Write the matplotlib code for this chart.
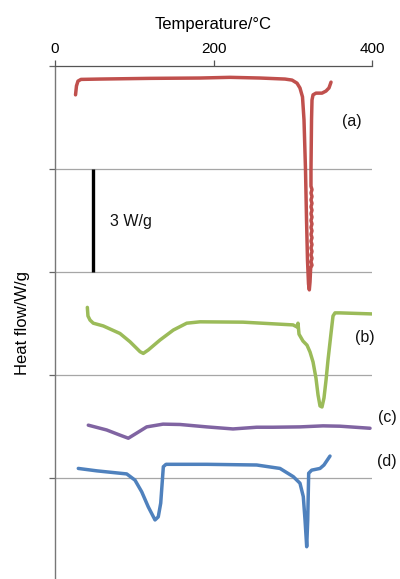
import matplotlib
matplotlib.use("Agg")
import matplotlib.pyplot as plt

plt.rcParams['font.family'] = ['Liberation Sans', 'DejaVu Sans']

# DSC traces, temperature (°C) and heat flow (W/g, stacked with vertical offsets)
temp_a = [25.9, 27.1, 29.0, 32.8, 56.8, 119.9, 183.0, 220.8, 258.7, 290.2, 299.1, 305.4,
          309.1, 312.3, 314.2, 316.1, 317.4, 318.6, 319.9, 320.9, 321.8, 322.6,
          324.3, 323.0, 324.3, 323.0, 324.3, 323.0, 324.3, 323.0, 324.3, 323.0, 324.3,
          323.0, 324.3, 323.0, 324.3, 323.0, 324.3, 323.0, 324.3, 323.0, 324.3, 323.0,
          324.3, 323.0,
          323.0, 323.7, 324.3, 325.6, 329.3, 336.9, 341.9, 345.7, 348.3]
flow_a = [-0.84, -0.58, -0.44, -0.39, -0.38, -0.36, -0.35, -0.33, -0.35, -0.38, -0.41, -0.50,
          -0.64, -0.90, -1.57, -3.03, -4.49, -5.65, -6.35, -6.52, -6.29, -5.88,
          -5.80, -5.70, -5.60, -5.50, -5.40, -5.30, -5.20, -5.10, -5.00, -4.90, -4.80,
          -4.70, -4.60, -4.50, -4.40, -4.30, -4.20, -4.10, -4.00, -3.90, -3.80, -3.70,
          -3.60, -3.50,
          -3.03, -1.57, -0.99, -0.84, -0.79, -0.79, -0.73, -0.64, -0.47]

temp_b = [40.8, 41.6, 44.2, 48.3, 60.9, 82.0, 94.6, 107.3, 111.4, 117.7, 132.5, 149.3,
          166.2, 183.0, 237.2, 300.3, 305.4, 306.6, 307.9, 312.9, 318.0, 321.8, 325.6,
          329.3, 331.9, 334.4, 336.9, 339.4, 342.0, 344.5, 348.3, 350.8, 353.3, 359.6, 400.0]
flow_b = [-7.03, -7.28, -7.40, -7.49, -7.57, -7.79, -8.03, -8.32, -8.37, -8.27, -7.98, -7.69,
          -7.49, -7.45, -7.46, -7.54, -7.60, -7.49, -7.81, -8.01, -8.13, -8.33, -8.62,
          -9.09, -9.58, -9.90, -9.93, -9.67, -9.15, -8.56, -7.78, -7.28, -7.19, -7.19, -7.22]

temp_c = [42.0, 65.2, 82.0, 92.5, 103.1, 115.7, 136.3, 157.7, 191.4, 224.6, 254.5, 275.1,
          309.1, 338.2, 359.6, 397.5]
flow_c = [-10.46, -10.60, -10.75, -10.84, -10.69, -10.51, -10.43, -10.44, -10.51, -10.57,
          -10.52, -10.52, -10.51, -10.48, -10.49, -10.55]

temp_d = [29.4, 52.6, 69.4, 90.5, 100.9, 109.4, 117.7, 126.2, 130.3, 133.4, 136.7, 140.1,
          191.4, 254.5, 283.9, 300.7, 309.1, 313.3, 315.5, 317.6, 318.9, 320.1, 323.9,
          334.4, 339.4, 347.0]
flow_d = [-11.72, -11.79, -11.83, -11.88, -12.06, -12.40, -12.84, -13.22, -13.13, -12.73,
          -11.67, -11.60, -11.60, -11.62, -11.72, -11.96, -12.15, -12.54, -13.22, -14.00,
          -13.22, -11.86, -11.77, -11.72, -11.62, -11.36]

curve_labels = ['(a)', '(b)', '(c)', '(d)']
curve_colors = ['#C0504D', '#9BBB59', '#8064A2', '#4F81BD']
label_pos = [(374.8, -1.63), (391.2, -7.92), (418.9, -10.25), (418.9, -11.53)]

x_ticks = [0, 200, 400]
y_ticks = [0, -3, -6, -9, -12]
scale_bar = 3  # W/g

fig = plt.figure(figsize=(4.0, 5.79), dpi=100)
ax = fig.add_axes([0.1375, 0.0, 0.7925, 0.886])

series = [(temp_a, flow_a), (temp_b, flow_b), (temp_c, flow_c), (temp_d, flow_d)]
for (t, f), col in zip(series, curve_colors):
    ax.plot(t, f, color=col, lw=2.5, solid_joinstyle='round', solid_capstyle='round')

for lab, (tx, ty) in zip(curve_labels, label_pos):
    ax.text(tx, ty, lab, ha='center', va='center', fontsize=11.5, color='#111111')

# scale bar
ax.plot([48, 48], [-3, -3 - scale_bar], color='black', lw=2.4, solid_capstyle='butt')
ax.text(69.4, -4.54, f'{scale_bar} W/g', ha='left', va='center', fontsize=11.5, color='#111111')

ax.set_xlim(0, 400)
ax.set_ylim(-14.94, 0)
ax.xaxis.tick_top()
ax.xaxis.set_label_position('top')
ax.set_xticks(x_ticks)
ax.set_xticklabels([str(v) for v in x_ticks], fontsize=11)
ax.set_yticks(y_ticks)
ax.set_yticklabels([])
ax.tick_params(axis='x', direction='out', length=4.5, width=0.9, color='#555555', pad=2.5)
ax.tick_params(axis='y', direction='out', length=4.3, width=0.9, color='#666666')
ax.set_xlabel('Temperature/°C', fontsize=12, labelpad=9.5)
ax.set_ylabel('Heat flow/W/g', fontsize=12, labelpad=10)

ax.spines['right'].set_visible(False)
ax.spines['bottom'].set_visible(False)
ax.spines['top'].set_color('#555555')
ax.spines['top'].set_linewidth(0.9)
ax.spines['left'].set_color('#777777')
ax.spines['left'].set_linewidth(1.0)

for yv in y_ticks[1:]:
    ax.axhline(yv, color='#a6a6a6', lw=0.9, zorder=0)

fig.savefig('out.png', dpi=100)
